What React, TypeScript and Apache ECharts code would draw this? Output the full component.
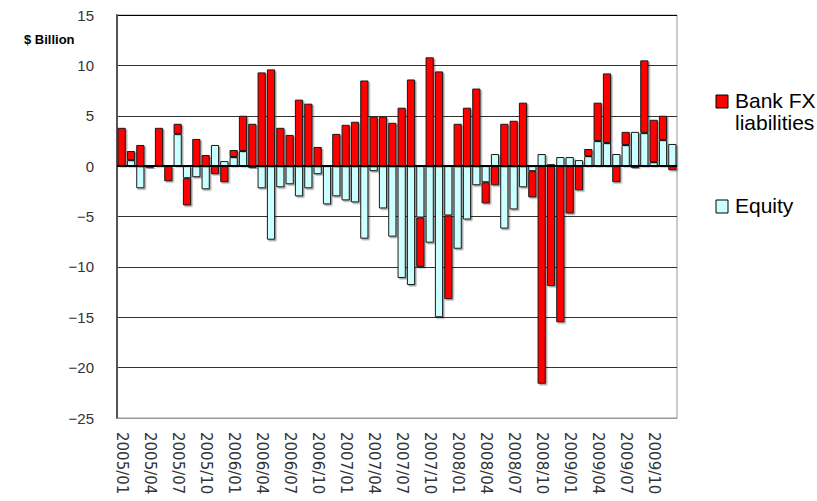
import React, { useEffect, useRef } from "react";
import * as echarts from "echarts";

const months = [
  "2005/01", "2005/02", "2005/03", "2005/04", "2005/05", "2005/06", "2005/07", "2005/08", "2005/09", "2005/10", "2005/11", "2005/12",
  "2006/01", "2006/02", "2006/03", "2006/04", "2006/05", "2006/06", "2006/07", "2006/08", "2006/09", "2006/10", "2006/11", "2006/12",
  "2007/01", "2007/02", "2007/03", "2007/04", "2007/05", "2007/06", "2007/07", "2007/08", "2007/09", "2007/10", "2007/11", "2007/12",
  "2008/01", "2008/02", "2008/03", "2008/04", "2008/05", "2008/06", "2008/07", "2008/08", "2008/09", "2008/10", "2008/11", "2008/12",
  "2009/01", "2009/02", "2009/03", "2009/04", "2009/05", "2009/06", "2009/07", "2009/08", "2009/09", "2009/10", "2009/11", "2009/12",
];

// Equity (drawn next to zero)
const equity = [
  0, 0.6, -2.2, -0.2, 0, 0, 3.2, -1.2, -1.1, -2.3, 2.1, 0.5,
  0.9, 1.5, -0.2, -2.2, -7.3, -2.1, -1.8, -3.0, -2.2, -0.8, -3.8, -3.0,
  -3.4, -3.6, -7.2, -0.5, -4.2, -7.0, -11.1, -11.8, -5.1, -7.6, -15.0, -4.9,
  -8.2, -5.3, -1.9, -1.6, 1.2, -6.2, -4.3, -2.1, -0.5, 1.2, 0.2, 0.9,
  0.9, 0.6, 1.0, 2.5, 2.3, 1.2, 2.1, 3.4, 3.3, 0.4, 2.6, 2.2,
];

// Bank FX liabilities (stacked on Equity)
const bankFx = [
  3.8, 0.9, 2.1, 0, 3.8, -1.5, 1.0, -2.7, 2.7, 1.1, -0.8, -1.6,
  0.7, 3.5, 4.2, 9.3, 9.6, 3.8, 3.1, 6.6, 6.2, 1.9, 0, 3.2,
  4.1, 4.4, 8.5, 4.9, 4.9, 4.3, 5.8, 8.6, -4.9, 10.8, 9.4, -8.3,
  4.2, 5.8, 7.7, -2.1, -1.9, 4.2, 4.5, 6.3, -2.6, -21.6, -11.9, -15.5,
  -4.7, -2.4, 0.7, 3.8, 6.9, -1.6, 1.3, -0.2, 7.2, 4.2, 2.4, -0.4,
];

const seriesNames = ["Bank FX liabilities", "Equity"];
const yTicks = { min: -25, max: 15, interval: 5 };

const FONT = '"Liberation Sans", Arial, sans-serif';

export default function App() {
  const ref = useRef<HTMLDivElement>(null);

  useEffect(() => {
    if (!ref.current) return;
    const chart = echarts.init(ref.current, undefined, { renderer: "svg" });
    const barStyle = (color: string) => ({
      color,
      borderColor: "#1a1a1a",
      borderWidth: 1,
      shadowColor: "rgba(0,0,0,0.35)",
      shadowOffsetX: 1.5,
      shadowOffsetY: 1.5,
      shadowBlur: 1,
    });
    chart.setOption({
      animation: false,
      backgroundColor: "#fff",
      grid: {
        left: 117,
        right: 140,
        top: 15,
        bottom: 83,
        show: true,
        borderColor: "#999",
        borderWidth: 1,
        backgroundColor: "transparent",
      },
      xAxis: {
        type: "category",
        data: months,
        boundaryGap: true,
        axisLine: { onZero: false, lineStyle: { color: "#999", width: 1 } },
        axisTick: { show: false },
        axisLabel: {
          interval: 2,
          rotate: -90,
          margin: 14,
          fontFamily: '"DejaVu Sans", sans-serif',
          fontSize: 15,
          color: "#333",
          padding: [8, 0, 0, 0],
        },
        splitLine: { show: false },
      },
      yAxis: {
        type: "value",
        min: yTicks.min,
        max: yTicks.max,
        interval: yTicks.interval,
        axisLine: { show: true, lineStyle: { color: "#555", width: 2 } },
        axisTick: { show: false },
        axisLabel: {
          margin: 23,
          fontFamily: FONT,
          fontSize: 15,
          color: "#333",
          formatter: (v: number) => String(v).replace("-", "\u2212"),
        },
        splitLine: {
          show: true,
          lineStyle: {
            color: ["#999", "#333", "#333", "#333", "#333", "#333", "#333", "#333", "#000"],
            width: 1,
          },
        },
      },
      series: [
        {
          name: seriesNames[1],
          type: "bar",
          stack: "total",
          data: equity,
          barCategoryGap: "12%",
          itemStyle: barStyle("#ccffff"),
        },
        {
          name: seriesNames[0],
          type: "bar",
          stack: "total",
          data: bankFx,
          barCategoryGap: "12%",
          itemStyle: barStyle("#ff0000"),
          markLine: {
            silent: true,
            symbol: "none",
            label: { show: false },
            lineStyle: { color: "#000", width: 2, type: "solid" },
            data: [{ yAxis: 0 }],
            z: 10,
          },
        },
      ],
      graphic: [
        {
          type: "text",
          x: 24,
          y: 33,
          style: { text: "$ Billion", font: `bold 13px ${FONT}`, fill: "#000", verticalAlign: "top" },
        },
        {
          type: "rect",
          shape: { x: 716, y: 95, width: 12, height: 13 },
          style: { fill: "#ff0000", stroke: "#000", lineWidth: 1 },
        },
        {
          type: "text",
          x: 735,
          y: 89,
          style: {
            text: "Bank FX\nliabilities",
            font: `21px ${FONT}`,
            lineHeight: 22,
            fill: "#000",
            verticalAlign: "top",
          },
        },
        {
          type: "rect",
          shape: { x: 716, y: 200, width: 12, height: 13 },
          style: { fill: "#ccffff", stroke: "#000", lineWidth: 1 },
        },
        {
          type: "text",
          x: 735,
          y: 194,
          style: { text: "Equity", font: `21px ${FONT}`, lineHeight: 22, fill: "#000", verticalAlign: "top" },
        },
      ],
    });
    return () => chart.dispose();
  }, []);

  return (
    <div
      ref={ref}
      style={{ position: "fixed", left: 0, top: 0, width: 817, height: 501 }}
    />
  );
}
